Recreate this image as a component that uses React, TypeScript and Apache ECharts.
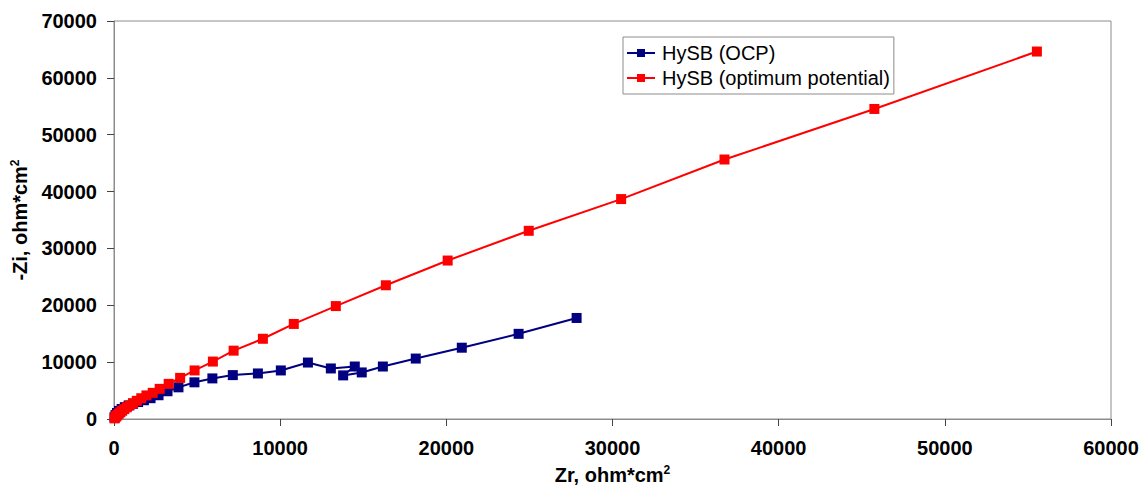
import React, { useEffect, useRef } from "react";
import * as echarts from "echarts";

// Nyquist data, ordered from high to low frequency
const ocpZr = [30, 90, 180, 300, 460, 650, 880, 1150, 1450, 1800, 2200, 2680, 3220, 3880, 4840, 5920, 7150, 8660, 10040, 11670, 13050, 14490, 13790, 14910, 16180, 18160, 20930, 24350, 27840];
const ocpZi = [300, 680, 1060, 1420, 1760, 2080, 2380, 2680, 2980, 3300, 3660, 4180, 4880, 5570, 6450, 7140, 7720, 8010, 8540, 9930, 8890, 9230, 7670, 8190, 9230, 10630, 12540, 14980, 17770];

const optZr = [30, 60, 100, 150, 210, 290, 380, 490, 620, 770, 940, 1140, 1370, 1640, 1950, 2330, 2750, 3290, 3980, 4850, 5950, 7200, 8960, 10820, 13350, 16360, 20080, 24960, 30520, 36740, 45760, 55540];
const optZi = [110, 230, 370, 530, 720, 940, 1180, 1450, 1740, 2060, 2400, 2780, 3200, 3650, 4150, 4600, 5300, 6180, 7230, 8540, 10100, 12020, 14110, 16720, 19860, 23520, 27870, 33100, 38680, 45640, 54530, 64630];

const seriesNames = ["HySB (OCP)", "HySB (optimum potential)"];
const seriesColors = ["#000080", "#ff0000"];
const xAxisMax = 60000;
const yAxisMax = 70000;
const tickStep = 10000;

const pair = (xs: number[], ys: number[]) => xs.map((x, i) => [x, ys[i]]);

export default function App() {
  const ref = useRef<HTMLDivElement>(null);

  useEffect(() => {
    if (!ref.current) return;
    const chart = echarts.init(ref.current, null, { renderer: "svg" });
    const font = "'Liberation Sans', Arial, sans-serif";
    const axisGray = "#8c8c8c";
    const labelStyle = {
      fontFamily: font,
      fontSize: 20,
      fontWeight: "bold" as const,
      color: "#000",
    };
    const nameStyle = {
      ...labelStyle,
      rich: {
        b: { ...labelStyle },
        sup: {
          fontFamily: font,
          fontSize: 12,
          fontWeight: "bold" as const,
          color: "#000",
          verticalAlign: "top" as const,
          padding: [0, 0, 10, 0],
        },
      },
    };
    const plain = (v: number) => String(v);

    chart.setOption({
      animation: false,
      backgroundColor: "#fff",
      grid: {
        left: 114,
        right: 31,
        top: 21,
        bottom: 66,
        show: true,
        borderColor: axisGray,
        borderWidth: 1,
        backgroundColor: "transparent",
      },
      legend: {
        orient: "vertical",
        left: 623,
        top: 37,
        padding: [6, 4, 6, 3],
        itemGap: 5,
        itemWidth: 28,
        itemHeight: 10,
        borderColor: axisGray,
        borderWidth: 1,
        backgroundColor: "#fff",
        textStyle: { fontFamily: font, fontSize: 20, color: "#000", padding: [0, 0, 0, 2] },
        data: seriesNames,
      },
      xAxis: {
        type: "value",
        min: 0,
        max: xAxisMax,
        interval: tickStep,
        name: "{b|Zr, ohm*cm}{sup|2}",
        nameLocation: "middle",
        nameGap: 45,
        nameTextStyle: nameStyle,
        axisLine: { show: true, lineStyle: { color: axisGray, width: 1 } },
        axisTick: { show: true, length: 7, lineStyle: { color: "#444" } },
        splitLine: { show: false },
        axisLabel: { ...labelStyle, margin: 19, formatter: plain },
      },
      yAxis: {
        type: "value",
        min: 0,
        max: yAxisMax,
        interval: tickStep,
        name: "{b|-Zi, ohm*cm}{sup|2}",
        nameLocation: "middle",
        nameGap: 76,
        nameTextStyle: nameStyle,
        axisLine: { show: true, lineStyle: { color: axisGray, width: 1 } },
        axisTick: { show: true, length: 7, lineStyle: { color: "#444" } },
        splitLine: { show: false },
        axisLabel: { ...labelStyle, margin: 17, formatter: plain },
      },
      series: [
        {
          name: seriesNames[0],
          type: "line",
          data: pair(ocpZr, ocpZi),
          symbol: "rect",
          symbolSize: 10,
          color: seriesColors[0],
          lineStyle: { color: seriesColors[0], width: 2 },
          itemStyle: { color: seriesColors[0] },
        },
        {
          name: seriesNames[1],
          type: "line",
          data: pair(optZr, optZi),
          symbol: "rect",
          symbolSize: 10,
          color: seriesColors[1],
          lineStyle: { color: seriesColors[1], width: 2 },
          itemStyle: { color: seriesColors[1] },
        },
      ],
    });

    return () => chart.dispose();
  }, []);

  return (
    <div
      ref={ref}
      style={{ position: "absolute", left: 0, top: 0, width: 1142, height: 490, background: "#fff" }}
    />
  );
}
